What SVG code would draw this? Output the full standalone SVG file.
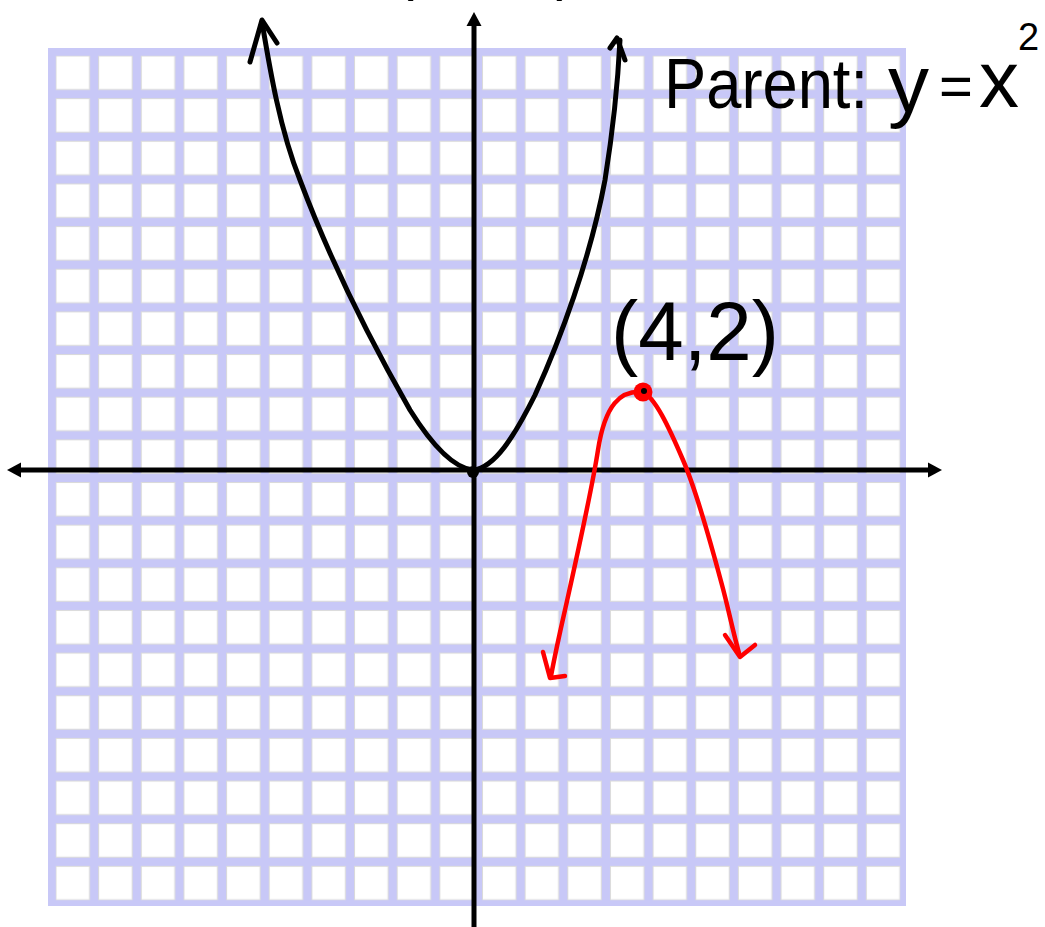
<svg xmlns="http://www.w3.org/2000/svg" width="1045" height="927" viewBox="0 0 1045 927">
<style>
.blk{fill:none;stroke:#000;stroke-width:5;stroke-linecap:round;stroke-linejoin:round}
.red{fill:none;stroke:#ff0000;stroke-width:4.5;stroke-linecap:round;stroke-linejoin:round}
.hand{font-family:"Liberation Sans","DejaVu Sans",sans-serif;fill:#000}
</style>
<defs>
<pattern id="cells" patternUnits="userSpaceOnUse" x="55.5" y="55.5" width="42.65" height="42.65">
<rect x="0.5" y="0.5" width="33.5" height="33.5" fill="#fff" stroke="#dadada" stroke-width="1"/>
</pattern>
</defs>
<rect width="1045" height="927" fill="#fff"/>
<g id="grid">
<rect x="48" y="48" width="858" height="858" fill="#c8c8f7"/>
<rect x="55.5" y="55.5" width="845" height="845" fill="url(#cells)"/>
</g>
<g id="axes">
<line x1="20" y1="470" x2="930" y2="470" stroke="#000" stroke-width="5"/>
<polygon points="7,470 21,462.5 21,477.5" fill="#000"/>
<polygon points="942,470 928,462.5 928,477.5" fill="#000"/>
<line x1="474" y1="24" x2="474" y2="927" stroke="#000" stroke-width="5"/>
<polygon points="474,12 466.5,26 481.5,26" fill="#000"/>
</g>
<g id="parent-curve">
<path class="blk" d="M262,22 C270,70 280,130 300,180 C330,260 370,340 410,410 C435,450 455,468 473,470 C495,468 515,435 535,395 C560,340 590,260 605,180 C613,130 618,80 620,40"/>
<polyline class="blk" points="250,62 262,20 277,43"/>
<polyline class="blk" points="610,48 617,38 625,60"/>
<circle cx="473" cy="472" r="6" fill="#000"/>
</g>
<g id="transformed-curve">
<path class="red" d="M643,392 C620,390 605,405 598,450 C591.5,492 575,565 565,610 C560,632 554,660 551,676"/>
<path class="red" d="M643,392 C655,398 668,425 683,460 C696,490 710,540 722,585 C728,607 733,632 739,653"/>
<polyline class="red" points="543,652 550,678 565,676"/>
<polyline class="red" points="725,635 740,657 755,645"/>
<circle cx="643" cy="392" r="9.5" fill="#ff0000"/>
<circle cx="644" cy="391" r="3" fill="#000"/>
</g>
<g id="labels">
<text class="hand" x="611" y="360" font-size="84" textLength="168" lengthAdjust="spacingAndGlyphs">(4,2)</text>
<text class="hand" x="664" y="108" font-size="70" textLength="204" lengthAdjust="spacingAndGlyphs">Parent:</text>
<text class="hand" x="888" y="112" font-size="82">y</text>
<text class="hand" x="939" y="106" font-size="58">=</text>
<text class="hand" x="979" y="107" font-size="80">x</text>
<text class="hand" x="1018" y="50" font-size="38">2</text>
<text class="hand" x="394" y="-11" font-size="60">(</text>
<text class="hand" x="556" y="-11" font-size="60">)</text>
</g>
</svg>
